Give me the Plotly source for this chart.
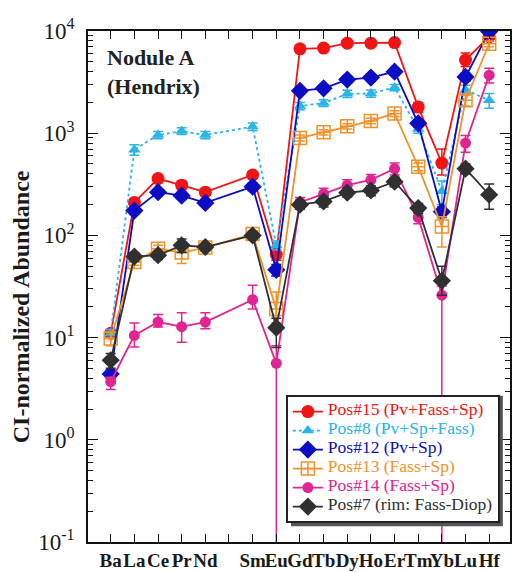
import plotly.graph_objects as go

# ---------------- data ----------------
elements = ["Ba", "La", "Ce", "Pr", "Nd", "Pm", "Sm", "Eu", "Gd", "Tb", "Dy", "Ho", "Er", "Tm", "Yb", "Lu", "Hf"]
tick_labels = ["Ba", "La", "Ce", "Pr", "Nd", "", "Sm", "Eu", "Gd", "Tb", "Dy", "Ho", "Er", "Tm", "Yb", "Lu", "Hf"]

pos15 = [11, 210, 360, 310, 265, None, 390, 65, 6700, 6800, 7600, 7600, 7700, 1800, 510, 5200, 8800]
pos8 = [11, 690, 960, 1050, 960, None, 1160, 80, 1850, 1970, 2430, 2450, 2800, 1100, 270, 2650, 2100]
pos12 = [4.4, 175, 265, 245, 208, None, 300, 46, 2600, 2750, 3350, 3500, 4000, 1250, 170, 3550, 9900]
pos13 = [9.8, 55, 74, 68, 76, None, 103, 19, 900, 1020, 1170, 1320, 1560, 470, 122, 2100, 7500]
pos14 = [3.7, 10.5, 14.2, 12.8, 14.2, None, 23.5, 5.6, 210, 255, 310, 350, 450, 150, 26, 800, 3700]
pos7 = [6.0, 62, 64, 80, 77, None, 100, 12.5, 200, 215, 262, 275, 335, 185, 36, 450, 250]

err15_p = [1, 15, 30, 30, 20, 0, 30, 8, 300, 300, 400, 400, 400, 200, 190, 900, 500]
err15_m = [1, 15, 30, 30, 20, 0, 30, 8, 300, 300, 400, 400, 400, 200, 120, 700, 500]
err8_p = [1, 80, 80, 80, 80, 0, 100, 8, 150, 150, 200, 200, 200, 100, 70, 300, 350]
err8_m = [1, 80, 80, 80, 80, 0, 100, 8, 150, 150, 200, 200, 200, 100, 70, 300, 350]
err12_p = [0.4, 15, 20, 20, 15, 0, 25, 6, 200, 200, 250, 250, 300, 100, 20, 300, 500]
err12_m = [0.4, 15, 20, 20, 15, 0, 25, 6, 200, 200, 250, 250, 300, 100, 20, 300, 500]
err13_p = [1.5, 4, 6, 12, 6, 0, 8, 9, 60, 60, 70, 80, 100, 40, 30, 250, 500]
err13_m = [1.5, 4, 6, 15, 6, 0, 8, 5, 60, 60, 70, 80, 100, 40, 45, 250, 500]
err14_p = [0.4, 3.4, 2.6, 4.7, 3.3, 0, 9, 2.7, 25, 35, 40, 45, 60, 20, 6, 150, 620]
err14_m = [0.6, 2.4, 1.5, 3.8, 2.0, 0, 4.5, 6, 25, 35, 40, 45, 60, 20, 30, 150, 600]
err7_p = [1, 6, 6, 12, 6, 0, 8, 3, 20, 25, 25, 30, 35, 20, 14, 50, 68]
err7_m = [1, 6, 6, 12, 6, 0, 8, 4.5, 20, 25, 25, 30, 35, 20, 10, 50, 70]

names = ["Pos#15 (Pv+Fass+Sp)", "Pos#8 (Pv+Sp+Fass)", "Pos#12 (Pv+Sp)",
         "Pos#13 (Fass+Sp)", "Pos#14 (Fass+Sp)", "Pos#7 (rim: Fass-Diop)"]
colors = ["#f01414", "#2ab4e8", "#0c0cc4", "#f0922c", "#e02490", "#303030"]
symbols = ["circle", "triangle-up", "diamond", "square-cross-open", "circle", "diamond"]
dashes = ["solid", "dot", "solid", "solid", "solid", "solid"]
msizes = [13, 11, 14, 13, 11, 14]

series = [pos15, pos8, pos12, pos13, pos14, pos7]
errs_p = [err15_p, err8_p, err12_p, err13_p, err14_p, err7_p]
errs_m = [err15_m, err8_m, err12_m, err13_m, err14_m, err7_m]

FONT = "Liberation Serif, Times New Roman, serif"

fig = go.Figure()
for vals, ep, em, nm, col, sym, dsh, ms in zip(series, errs_p, errs_m, names, colors, symbols, dashes, msizes):
    fig.add_trace(go.Scatter(
        x=elements, y=vals, mode="lines+markers", connectgaps=True,
        name=f"<span style='color:{col};font-size:17.5px'>{nm}</span>",
        line=dict(color=col, width=1.8, dash=dsh),
        marker=dict(symbol=sym, size=ms, color=col,
                    line=dict(color=col, width=1.5 if "open" in sym else 0)),
        error_y=dict(type="data", symmetric=False, array=ep, arrayminus=em,
                     color=col, thickness=1.5, width=5),
    ))

# legend drop shadow (decoration only, paper coordinates)
shadow = dict(type="rect", xref="paper", yref="paper", layer="above",
              x0=0.481, x1=0.983, y0=0.031, y1=0.286,
              fillcolor="#555555", line=dict(width=0))

fig.update_layout(
    width=512, height=572,
    margin=dict(l=88, r=2, t=31, b=30, autoexpand=False),
    paper_bgcolor="white", plot_bgcolor="white",
    font=dict(family=FONT, color="#1a1a1a"),
    showlegend=True,
    legend=dict(
        x=0.976, y=0.037, xanchor="right", yanchor="bottom",
        bgcolor="white", bordercolor="#222222", borderwidth=2,
        font=dict(family=FONT, size=10, color="#1a1a1a"),
        itemwidth=30, tracegroupgap=0,
    ),
    shapes=[shadow],
    annotations=[
        dict(text="<b>Nodule A<br>(Hendrix)</b>", xref="paper", yref="paper",
             x=0.04, y=0.977, xanchor="left", yanchor="top", align="left",
             showarrow=False, font=dict(family=FONT, size=22, color="#222222")),
        dict(text="<b>CI-normalized Abundance</b>", xref="paper", yref="paper",
             x=-0.158, y=0.46, xanchor="center", yanchor="middle", textangle=-90,
             showarrow=False, font=dict(family=FONT, size=24, color="#1a1a1a")),
    ],
)

fig.update_xaxes(
    type="category", categoryorder="array", categoryarray=elements,
    range=[-0.96, 16.88], automargin=False,
    tickmode="array", tickvals=elements, ticktext=tick_labels, tickangle=0,
    ticks="inside", ticklen=8, tickwidth=1.3, tickcolor="#111",
    showline=True, linecolor="#111", linewidth=1.6, mirror="allticks",
    showgrid=False, zeroline=False,
    tickfont=dict(family=FONT, size=19, color="#1a1a1a", weight="bold"),
)

ytv = [0.1, 1, 10, 100, 1000, 10000]
ytt = ["10<sup>-1</sup>", "10<sup>0</sup>", "10<sup>1</sup>", "10<sup>2</sup>", "10<sup>3</sup>", "10<sup>4</sup>"]
fig.update_yaxes(
    type="log", range=[-1, 4], automargin=False,
    tickmode="array", tickvals=ytv, ticktext=ytt,
    ticks="inside", ticklen=10, tickwidth=1.3, tickcolor="#111",
    minor=dict(ticks="inside", ticklen=5, tickwidth=1, tickcolor="#111", dtick="D1", showgrid=False),
    showline=True, linecolor="#111", linewidth=1.6, mirror="allticks",
    showgrid=False, zeroline=False, ticklabelstandoff=7,
    tickfont=dict(family=FONT, size=23, color="#1a1a1a"),
)

fig.write_html("out.html")
